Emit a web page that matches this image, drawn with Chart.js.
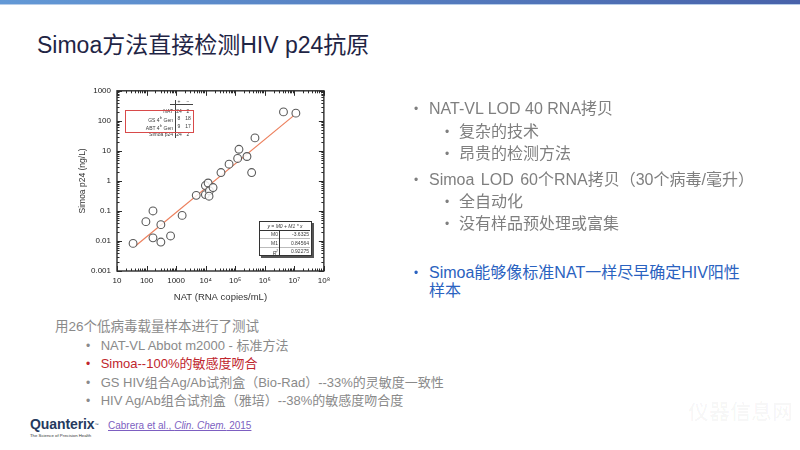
<!DOCTYPE html>
<html>
<head>
<meta charset="utf-8">
<script src="https://cdn.jsdelivr.net/npm/chart.js@4/dist/chart.umd.min.js"></script>
<style>
  html,body{margin:0;padding:0;background:#fff;}
  body{width:800px;height:450px;position:relative;overflow:hidden;font-family:"Liberation Sans","Noto Sans CJK SC",Arial,sans-serif;}
  .abs{position:absolute;white-space:nowrap;}
  #bar{position:absolute;left:0;top:0;width:800px;height:4px;background:linear-gradient(90deg,#6399d6,#4862aa);}
  #bar2{position:absolute;left:0;top:4px;width:800px;height:1px;background:#b7cde9;}
  .t16{font-size:16px;line-height:20px;color:#7f7f7f;}
  .t13{font-size:13px;line-height:18px;color:#8a8a8a;}
  .bl{font-size:12px;}
  .tiny{font-size:5px;line-height:6px;color:#3a3a3a;font-family:"Liberation Sans",Arial,sans-serif;}
  #chartWrap{position:absolute;left:60px;top:80px;width:275px;height:225px;}
</style>
</head>
<body>
<div id="bar"></div><div id="bar2"></div>
<div class="abs" style="left:37px;top:31px;font-size:23px;line-height:28px;color:#1f2545;">Simoa方法直接检测HIV p24抗原</div>

<div id="chartWrap"><canvas id="c" width="275" height="225"></canvas></div>

<!-- legend table inside chart -->
<div class="abs tiny" style="left:176px;top:98px;width:6px;text-align:center;">+</div>
<div class="abs tiny" style="left:185px;top:98px;width:6px;text-align:center;">−</div>
<div class="abs" style="left:175px;top:100px;width:1px;height:38px;background:#444;"></div>
<div class="abs" style="left:170px;top:104px;width:23px;height:1px;background:#444;"></div>
<div class="abs tiny" style="left:130px;top:107.7px;width:43px;text-align:right;">NAT</div>
<div class="abs tiny" style="left:130px;top:115px;width:43px;text-align:right;">GS 4<sup style="font-size:3px">th</sup> Gen</div>
<div class="abs tiny" style="left:130px;top:123px;width:43px;text-align:right;">ABT 4<sup style="font-size:3px">th</sup> Gen</div>
<div class="abs tiny" style="left:130px;top:130.7px;width:43px;text-align:right;">Simoa p24</div>
<div class="abs tiny" style="left:175px;top:107.7px;width:8px;text-align:center;">24</div>
<div class="abs tiny" style="left:175px;top:115px;width:8px;text-align:center;">8</div>
<div class="abs tiny" style="left:175px;top:123px;width:8px;text-align:center;">9</div>
<div class="abs tiny" style="left:175px;top:130.7px;width:8px;text-align:center;">24</div>
<div class="abs tiny" style="left:184px;top:107.7px;width:8px;text-align:center;">2</div>
<div class="abs tiny" style="left:184px;top:115px;width:8px;text-align:center;">18</div>
<div class="abs tiny" style="left:184px;top:123px;width:8px;text-align:center;">17</div>
<div class="abs tiny" style="left:184px;top:130.7px;width:8px;text-align:center;">2</div>
<div class="abs" style="left:125px;top:110px;width:67px;height:21px;border:1px solid #d84a4a;"></div>

<!-- fit table -->
<div class="abs" style="left:259px;top:221px;width:51px;height:33px;border:1px solid #333;background:#fff;box-shadow:2px 2px 0 #555;"></div>
<div class="abs tiny" style="left:259px;top:222.5px;width:52px;text-align:center;font-style:italic;">y = M0 + M1 * x</div>
<div class="abs" style="left:260px;top:229.5px;width:50px;height:1px;background:#333;"></div>
<div class="abs" style="left:260px;top:238px;width:50px;height:1px;background:#bbb;"></div>
<div class="abs" style="left:260px;top:246.5px;width:50px;height:1px;background:#bbb;"></div>
<div class="abs" style="left:278.5px;top:230px;width:1px;height:25px;background:#333;"></div>
<div class="abs tiny" style="left:260px;top:231px;width:18px;text-align:right;">M0</div>
<div class="abs tiny" style="left:260px;top:239.5px;width:18px;text-align:right;">M1</div>
<div class="abs tiny" style="left:260px;top:248px;width:18px;text-align:right;font-style:italic;">R<sup style="font-size:3px">2</sup></div>
<div class="abs tiny" style="left:280px;top:231px;width:29px;text-align:right;">-3.6325</div>
<div class="abs tiny" style="left:280px;top:239.5px;width:29px;text-align:right;">0.84564</div>
<div class="abs tiny" style="left:280px;top:248px;width:29px;text-align:right;">0.92275</div>

<!-- right bullets -->
<div class="abs t16 bl" style="left:414px;top:99px;">•</div>
<div class="abs t16" style="left:429px;top:99px;">NAT-VL LOD 40 RNA拷贝</div>
<div class="abs t16 bl" style="left:445px;top:121.7px;">•</div>
<div class="abs t16" style="left:459px;top:121.7px;">复杂的技术</div>
<div class="abs t16 bl" style="left:445px;top:144.3px;">•</div>
<div class="abs t16" style="left:459px;top:144.3px;">昂贵的检测方法</div>
<div class="abs t16 bl" style="left:414px;top:170px;">•</div>
<div class="abs t16" style="left:429px;top:170px;word-spacing:2px;">Simoa LOD 60个RNA拷贝（30个病毒/毫升）</div>
<div class="abs t16 bl" style="left:445px;top:191.7px;">•</div>
<div class="abs t16" style="left:459px;top:191.7px;">全自动化</div>
<div class="abs t16 bl" style="left:445px;top:214.3px;">•</div>
<div class="abs t16" style="left:459px;top:214.3px;">没有样品预处理或富集</div>
<div class="abs t16 bl" style="left:414px;top:263.3px;color:#2a62c0;">•</div>
<div class="abs t16" style="left:429px;top:263.3px;color:#2a62c0;">Simoa能够像标准NAT一样尽早确定HIV阳性</div>
<div class="abs t16" style="left:429px;top:281px;color:#2a62c0;">样本</div>

<!-- bottom text -->
<div class="abs" style="left:55px;top:318px;font-size:13.5px;line-height:18px;color:#8a8a8a;">用26个低病毒载量样本进行了测试</div>
<div class="abs t13 bl" style="left:86px;top:336.7px;">•</div>
<div class="abs t13" style="left:100.7px;top:336.7px;">NAT-VL Abbot m2000 - 标准方法</div>
<div class="abs t13 bl" style="left:86px;top:355px;color:#c0262d;">•</div>
<div class="abs t13" style="left:100.7px;top:355px;color:#c0262d;">Simoa--100%的敏感度吻合</div>
<div class="abs t13 bl" style="left:86px;top:373.7px;">•</div>
<div class="abs t13" style="left:100.7px;top:373.7px;">GS HIV组合Ag/Ab试剂盒（Bio-Rad）--33%的灵敏度一致性</div>
<div class="abs t13 bl" style="left:86px;top:391.7px;">•</div>
<div class="abs t13" style="left:100.7px;top:391.7px;">HIV Ag/Ab组合试剂盒（雅培）--38%的敏感度吻合度</div>

<div class="abs" style="left:30px;top:416px;font-size:14px;line-height:17px;font-weight:bold;color:#253a5e;letter-spacing:-0.1px;">Quanterix<span style="font-size:4px;vertical-align:top;font-weight:normal;">™</span></div>
<div class="abs" style="left:30px;top:432.5px;font-size:4.3px;line-height:5px;color:#333;">The Science of Precision Health</div>
<div class="abs" style="left:108px;top:419px;font-size:10px;line-height:13px;color:#7d5fc1;text-decoration:underline;">Cabrera et al., <i>Clin. Chem.</i> 2015</div>

<!-- faint watermark -->
<div class="abs" style="left:688px;top:400px;font-size:21px;line-height:24px;font-weight:bold;color:rgba(0,0,0,0.03);">仪器信息网</div>
<div class="abs" style="left:680px;top:426px;font-size:8px;line-height:10px;color:rgba(0,0,0,0.03);">www.instrument.com.cn</div>

<script>
const xTickValues = [10, 100, 1000, 1e4, 1e5, 1e6, 1e7, 1e8];
const xTickLabels = ['10', '100', '1000', '10⁴', '10⁵', '10⁶', '10⁷', '10⁸'];
const yTickValues = [0.001, 0.01, 0.1, 1, 10, 100, 1000];
const yTickLabels = ['0.001', '0.01', '0.1', '1', '10', '100', '1000'];

const natValues = [35, 95, 165, 165, 305, 305, 650, 1600, 4800, 9800, 12100, 9800, 13400, 13000, 17800, 33000, 62000, 121000, 134000, 250000, 360000, 466000, 4.3e6, 1.13e7];
const p24Values = [0.0083, 0.044, 0.10, 0.0127, 0.035, 0.0092, 0.0147, 0.071, 0.33, 0.70, 0.85, 0.35, 0.47, 0.31, 0.60, 1.9, 3.6, 5.6, 11.3, 6.5, 1.9, 27, 198, 180];

const fitX = [40, 1e7];
const fitY = [0.0065, 155];

const framePlugin = {
  id: 'frame',
  afterDatasetsDraw(chart) {
    const {ctx, chartArea: a, scales: {x, y}} = chart;
    ctx.save();
    ctx.strokeStyle = '#2b2b2b';
    ctx.lineWidth = 1;
    const drawX = (v, len) => {
      const px = Math.round(x.getPixelForValue(v)) + 0.5;
      ctx.beginPath();
      ctx.moveTo(px, a.bottom); ctx.lineTo(px, a.bottom - len);
      ctx.moveTo(px, a.top); ctx.lineTo(px, a.top + len);
      ctx.stroke();
    };
    const drawY = (v, len) => {
      const py = Math.round(y.getPixelForValue(v)) + 0.5;
      ctx.beginPath();
      ctx.moveTo(a.left, py); ctx.lineTo(a.left + len, py);
      ctx.moveTo(a.right, py); ctx.lineTo(a.right - len, py);
      ctx.stroke();
    };
    xTickValues.forEach(d => {
      drawX(d, 5);
      if (d < x.max) for (let k = 2; k < 10; k++) drawX(d * k, 2.5);
    });
    yTickValues.forEach(d => {
      drawY(d, 5);
      if (d < y.max) for (let k = 2; k < 10; k++) drawY(d * k, 2.5);
    });
    ctx.lineWidth = 1.4;
    ctx.strokeRect(a.left, a.top, a.right - a.left, a.bottom - a.top);
    ctx.restore();
  }
};

new Chart(document.getElementById('c'), {
  type: 'scatter',
  data: {
    datasets: [
      {
        label: 'Samples',
        data: natValues.map((v, i) => ({x: v, y: p24Values[i]})),
        pointStyle: 'circle',
        pointRadius: 3.9,
        pointBackgroundColor: 'rgba(255,255,255,0.85)',
        pointBorderColor: '#5a5a5a',
        pointBorderWidth: 1.1,
        order: 0
      },
      {
        label: 'Fit',
        type: 'line',
        data: fitX.map((v, i) => ({x: v, y: fitY[i]})),
        borderColor: '#ec7f5c',
        borderWidth: 1.2,
        pointRadius: 0,
        showLine: true,
        fill: false,
        order: 1
      }
    ]
  },
  options: {
    responsive: false,
    animation: false,
    layout: {padding: {left: 0, top: 6, right: 9, bottom: 0}},
    plugins: {legend: {display: false}, tooltip: {enabled: false}},
    scales: {
      x: {
        type: 'logarithmic', min: 10, max: 1e8,
        grid: {display: false, drawTicks: false},
        border: {display: false},
        afterBuildTicks: s => { s.ticks = xTickValues.map(v => ({value: v})); },
        afterFit: s => { s.height = 34; },
        ticks: {
          autoSkip: false, maxRotation: 0, padding: 5,
          color: '#222',
          font: {family: 'Liberation Sans', size: 8},
          callback: (v) => { const i = xTickValues.indexOf(v); return i >= 0 ? xTickLabels[i] : ''; }
        },
        title: {display: true, text: 'NAT (RNA copies/mL)', color: '#333', font: {family: 'Liberation Sans', size: 9.5}, padding: {top: 0, bottom: 2}}
      },
      y: {
        type: 'logarithmic', min: 0.001, max: 1000,
        grid: {display: false, drawTicks: false},
        border: {display: false},
        afterBuildTicks: s => { s.ticks = yTickValues.map(v => ({value: v})); },
        afterFit: s => { s.width = 57; },
        ticks: {
          autoSkip: false, padding: 6,
          color: '#222',
          font: {family: 'Liberation Sans', size: 8},
          callback: (v) => { const i = yTickValues.indexOf(v); return i >= 0 ? yTickLabels[i] : ''; }
        },
        title: {display: true, text: 'Simoa p24 (ng/L)', color: '#333', font: {family: 'Liberation Sans', size: 8.5}, padding: {top: 18, bottom: 0}}
      }
    }
  },
  plugins: [framePlugin]
});
</script>
</body>
</html>
